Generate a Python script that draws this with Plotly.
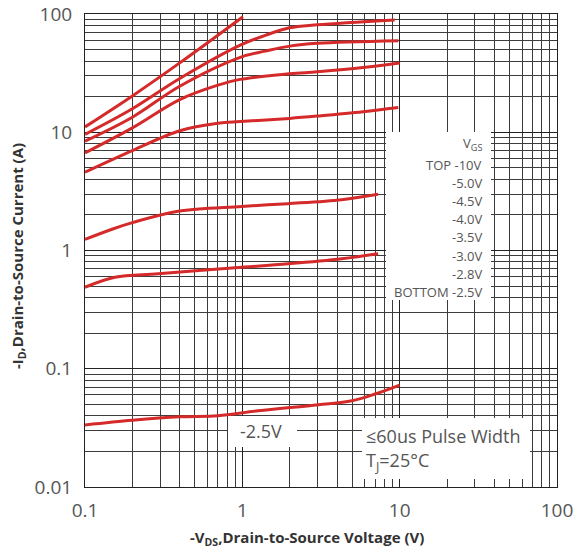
import plotly.graph_objects as go

# ---- data ----
vgs_labels = ["-10V", "-5.0V", "-4.5V", "-4.0V", "-3.5V", "-3.0V", "-2.8V", "-2.5V"]

vds_10 = [0.1, 0.2, 0.4, 1.01]
id_10 = [11.1, 20.3, 38.6, 94.9]

vds_50 = [0.1, 0.2, 0.4, 0.97, 1.4, 2.0, 3.0, 9.3]
id_50 = [9.6, 15.8, 28.5, 54.6, 66.0, 76.5, 81.0, 89.0]

vds_45 = [0.1, 0.2, 0.4, 0.97, 1.4, 2.0, 3.0, 9.8]
id_45 = [8.4, 13.4, 24.5, 43.0, 48.5, 53.5, 56.5, 59.4]

vds_40 = [0.1, 0.2, 0.4, 0.7, 0.97, 2.0, 3.0, 5.85, 10.0]
id_40 = [6.7, 10.9, 18.9, 25.0, 28.0, 31.2, 32.5, 35.3, 38.6]

vds_35 = [0.1, 0.2, 0.4, 0.7, 0.97, 2.0, 3.0, 5.85, 9.8]
id_35 = [4.6, 7.0, 10.3, 11.9, 12.3, 13.1, 13.7, 14.9, 16.2]

vds_30 = [0.1, 0.15, 0.2, 0.39, 0.99, 1.95, 4.28, 7.3]
id_30 = [1.24, 1.52, 1.72, 2.15, 2.36, 2.49, 2.69, 2.99]

vds_28 = [0.1, 0.155, 0.292, 0.90, 1.95, 4.28, 7.3]
id_28 = [0.489, 0.594, 0.635, 0.714, 0.771, 0.851, 0.938]

vds_25 = [0.1, 0.2, 0.4, 0.7, 1.26, 3.04, 4.96, 6.97, 10.0]
id_25 = [0.0335, 0.0367, 0.0392, 0.040, 0.0441, 0.0496, 0.0536, 0.0611, 0.0728]

series = [(vds_10, id_10), (vds_50, id_50), (vds_45, id_45), (vds_40, id_40),
          (vds_35, id_35), (vds_30, id_30), (vds_28, id_28), (vds_25, id_25)]

x_tickvals = [0.1, 1, 10, 100]
x_ticktext = ["0.1", "1", "10", "100"]
y_tickvals = [0.01, 0.1, 1, 10, 100]
y_ticktext = ["0.01", "0.1", "1", "10", "100"]

legend_rows = ["TOP -10V", "-5.0V", "-4.5V", "-4.0V", "-3.5V", "-3.0V", "-2.8V", "BOTTOM -2.5V"]

# ---- layout helpers (pixel -> paper) ----
W, H = 575, 553
L, R, T, B = 85, 18, 14, 66
PW, PH = W - L - R, H - T - B


def px(x):
    return (x - L) / PW


def py(y):
    return (H - B - y) / PH


RED = "#d42a2a"
GRID = "#3c3c3c"
TXT = "#555555"

fig = go.Figure()
for (xs, ys), name in zip(series, vgs_labels):
    fig.add_trace(go.Scatter(
        x=xs, y=ys, mode="lines", name=name,
        line=dict(color=RED, width=3, shape="spline", smoothing=1.0),
        showlegend=False, hoverinfo="skip"))

axis_common = dict(
    type="log", showgrid=True, gridcolor="#222222", gridwidth=1,
    showline=True, linecolor="#222222", linewidth=1, mirror=True,
    ticks="", zeroline=False, automargin=False,
    tickfont=dict(family="Open Sans", size=19, color=TXT),
    minor=dict(dtick="D1", showgrid=True, gridcolor=GRID, gridwidth=1, ticks=""),
)

fig.update_xaxes(range=[-1, 2], tickvals=x_tickvals, ticktext=x_ticktext,
                 ticklabelstandoff=6, **axis_common)
fig.update_yaxes(range=[-2, 2], tickvals=y_tickvals, ticktext=y_ticktext,
                 ticklabelstandoff=8, **axis_common)

shapes = []
for (x0, y0, x1, y1) in [(386, 132, 491, 300), (228, 416, 297, 447), (362, 418, 530, 479)]:
    shapes.append(dict(type="rect", xref="paper", yref="paper",
                       x0=px(x0), x1=px(x1), y0=py(y1), y1=py(y0),
                       fillcolor="white", line=dict(width=0), layer="above"))

annotations = []
annotations.append(dict(text="V<sub>GS</sub>", x=px(484), y=py(144), xref="paper", yref="paper",
                        xanchor="right", yanchor="middle", showarrow=False,
                        font=dict(family="Open Sans", size=13, color=TXT)))
for i, t in enumerate(legend_rows):
    annotations.append(dict(text=t, x=px(484), y=py(165 + i * 18.1), xref="paper", yref="paper",
                            xanchor="right", yanchor="middle", showarrow=False,
                            font=dict(family="Open Sans", size=13, color=TXT)))
annotations.append(dict(text="-2.5V", x=px(261), y=py(431), xref="paper", yref="paper",
                        xanchor="center", yanchor="middle", showarrow=False,
                        font=dict(family="Open Sans", size=18, color=TXT)))
annotations.append(dict(text="≤60us Pulse Width", x=px(364), y=py(436), xref="paper", yref="paper",
                        xanchor="left", yanchor="middle", showarrow=False,
                        font=dict(family="Open Sans", size=18, color=TXT)))
annotations.append(dict(text="T<sub>J</sub>=25°C", x=px(364), y=py(461), xref="paper", yref="paper",
                        xanchor="left", yanchor="middle", showarrow=False,
                        font=dict(family="Open Sans", size=18, color=TXT)))
annotations.append(dict(text="<b>-V<sub>DS</sub>,Drain-to-Source Voltage (V)</b>", x=px(307), y=py(538),
                        xref="paper", yref="paper", xanchor="center", yanchor="middle", showarrow=False,
                        font=dict(family="Open Sans", size=15, color="#333333")))
annotations.append(dict(text="<b>-I<sub>D</sub>,Drain-to-Source Current (A)</b>", x=px(18), y=py(256),
                        xref="paper", yref="paper", xanchor="center", yanchor="middle", showarrow=False,
                        textangle=-90,
                        font=dict(family="Open Sans", size=15, color="#333333")))

fig.update_layout(width=W, height=H, margin=dict(l=L, r=R, t=T, b=B, autoexpand=False),
                  paper_bgcolor="white", plot_bgcolor="white",
                  shapes=shapes, annotations=annotations, showlegend=False)

fig.write_html("out.html", config={"displayModeBar": False},
               post_script="document.body.style.margin='0';document.body.style.overflow='hidden';")
